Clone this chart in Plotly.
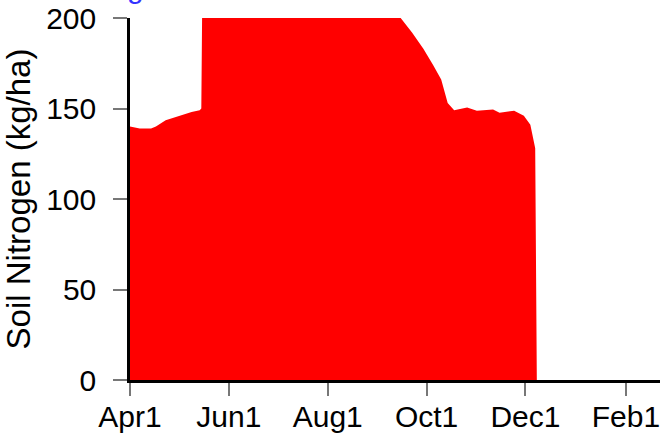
import plotly.graph_objects as go

# Soil nitrogen (kg/ha) through the season; values above 200 are off-scale
dates = [
    "2001-04-01", "2001-04-07", "2001-04-14", "2001-04-17", "2001-04-23",
    "2001-04-28", "2001-05-03", "2001-05-09", "2001-05-14", "2001-05-15",
    "2001-05-16", "2001-06-01", "2001-07-01", "2001-08-01", "2001-09-01",
    "2001-09-15", "2001-09-22", "2001-09-29", "2001-10-05", "2001-10-10",
    "2001-10-14", "2001-10-18", "2001-10-26", "2001-11-01", "2001-11-11",
    "2001-11-15", "2001-11-24", "2001-11-30", "2001-12-04", "2001-12-06",
    "2001-12-07", "2001-12-08", "2002-01-01", "2002-02-01", "2002-03-01",
]
soil_n = [
    140, 139, 139, 140, 143.5,
    145, 146.5, 148, 149, 150,
    255, 265, 280, 250, 218,
    200, 192, 183, 174, 166,
    153, 149, 150.5, 148.8, 149.5,
    147.7, 148.8, 146, 141, 133,
    128, 0, 0, 0, 0,
]

x_range = ["2001-04-01", "2002-02-22"]
x_tickvals = ["2001-04-01", "2001-06-01", "2001-08-01", "2001-10-01", "2001-12-01", "2002-02-01"]
x_ticktext = ["Apr1", "Jun1", "Aug1", "Oct1", "Dec1", "Feb1"]
y_tickvals = [0, 50, 100, 150, 200]

FONT = "Liberation Sans, Arial, sans-serif"

fig = go.Figure()
fig.add_trace(go.Scatter(
    x=dates, y=soil_n, mode="lines", fill="tozeroy",
    fillcolor="#ff0000", line=dict(color="#ff0000", width=0),
    showlegend=False,
))

fig.update_layout(
    width=662, height=437,
    margin=dict(l=130, r=2, t=18, b=57),
    paper_bgcolor="white", plot_bgcolor="white",
    font=dict(family=FONT, size=30, color="black"),
    xaxis=dict(
        type="date", range=x_range, tickvals=x_tickvals, ticktext=x_ticktext,
        showgrid=False, zeroline=False, showline=True, linecolor="black", linewidth=2.5,
        ticks="outside", ticklen=13, tickwidth=1.5, tickcolor="#777777",
        tickfont=dict(size=30), layer="below traces", automargin=False,
        ticklabeloverflow="allow", ticklabelstandoff=-5,
    ),
    yaxis=dict(
        range=[0, 200], tickvals=y_tickvals,
        showgrid=False, zeroline=False, showline=True, linecolor="black", linewidth=2.5,
        ticks="outside", ticklen=14, tickwidth=1.5, tickcolor="#777777",
        tickfont=dict(size=30), ticklabelstandoff=11, ticklabeloverflow="allow",
        title=dict(text="Soil Nitrogen (kg/ha)", font=dict(size=33), standoff=14),
        automargin=False,
    ),
    annotations=[dict(
        text="g", xref="paper", yref="paper", x=0.0, y=1, xanchor="left",
        yanchor="bottom", xshift=-5, yshift=12, showarrow=False,
        font=dict(color="#3333ff", size=30, family=FONT),
    )],
)

fig.write_html("out.html", config={"displayModeBar": False},
               post_script="document.body.style.margin='0';")
